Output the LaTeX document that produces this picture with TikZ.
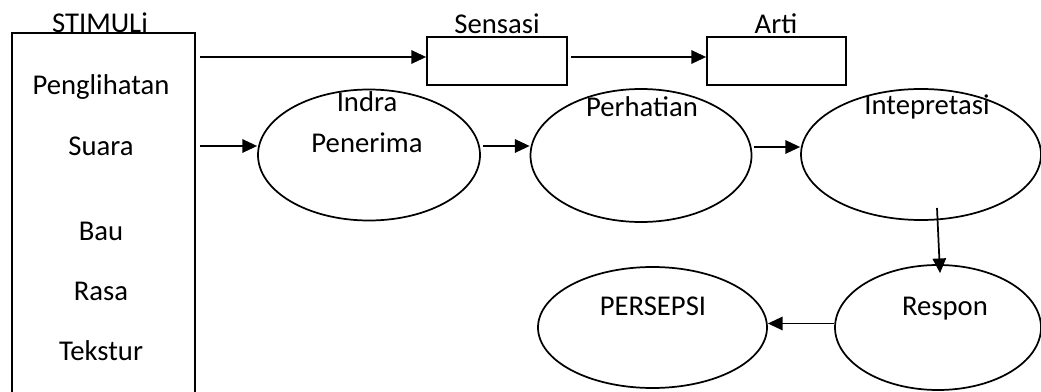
\documentclass[tikz,border=0pt]{standalone}
\usepackage{fontspec}
\setmainfont{Carlito}
\usetikzlibrary{shapes.geometric,arrows.meta}
\begin{document}
\begin{tikzpicture}[x=0.75pt,y=-0.75pt,
  lbl/.style={anchor=base,inner sep=0pt,font=\fontsize{21.5}{26}\selectfont},
  ell/.style={draw,ellipse,line width=1.3pt,inner sep=0pt},
  boxs/.style={draw,rectangle,line width=1.3pt,inner sep=0pt},
  arr/.style={line width=1.3pt,-{Triangle[length=11pt,width=10pt]}}]
\clip (0,0) rectangle (1041,392);
\fill[white] (0,0) rectangle (1041,392);
% boxes
\node[boxs,minimum width=137.25pt,minimum height=275.25pt] (stim) at (103.5,216.5) {};
\node[boxs,minimum width=105pt,minimum height=36pt] (sens) at (497,61) {};
\node[boxs,minimum width=104.25pt,minimum height=36pt] (arti) at (776.5,61) {};
% ellipses
\node[ell,minimum width=166.5pt,minimum height=98.25pt] (indra) at (369,155) {};
\node[ell,minimum width=165.75pt,minimum height=99.75pt] (perh) at (641,155.5) {};
\node[ell,minimum width=180pt,minimum height=98.25pt] (inte) at (921,154.5) {};
\node[ell,minimum width=154.5pt,minimum height=93.75pt] (resp) at (938,327.5) {};
\node[ell,minimum width=171.75pt,minimum height=90.75pt] (pers) at (652.5,327.5) {};
% texts
\node[lbl] (tstim) at (100,33) {STIMULi};
\node[lbl] (tpeng) at (101,95) {Penglihatan};
\node[lbl] (tsuar) at (101,156) {Suara};
\node[lbl] (tbau) at (101,240) {Bau};
\node[lbl] (trasa) at (101,300) {Rasa};
\node[lbl] (tteks) at (101,360) {Tekstur};
\node[lbl] (tsens) at (497,34) {Sensasi};
\node[lbl] (tarti) at (776,34) {Arti};
\node[lbl] (tindra) at (367,112) {Indra};
\node[lbl] (tpener) at (367,152) {Penerima};
\node[lbl] (tperh) at (642,117) {Perhatian};
\node[lbl] (tinte) at (927,115) {Intepretasi};
\node[lbl] (tresp) at (945,315) {Respon};
\node[lbl] (tpers) at (653,315) {PERSEPSI};
% connectors
\coordinate (s1) at (200,57);
\coordinate (s2) at (200,146);
\coordinate (a1) at (571,57);
\coordinate (b1) at (483,146);
\coordinate (c1) at (754,147);
\coordinate (d1) at (937,208);
\draw[arr] (s1) -- (s1 -| sens.west);
\draw[arr] (a1) -- (a1 -| arti.west);
\draw[arr] (s2) -- (s2 -| indra.west);
\draw[arr] (b1) -- (b1 -| perh.west);
\draw[arr] (c1) -- (c1 -| inte.west);
\draw[arr] (d1) -- ([shift={(2,9)}]resp.north);
\draw[arr] ([shift={(0,-4)}]resp.west) -- ([shift={(0,-4)}]pers.east);
\end{tikzpicture}
\end{document}
